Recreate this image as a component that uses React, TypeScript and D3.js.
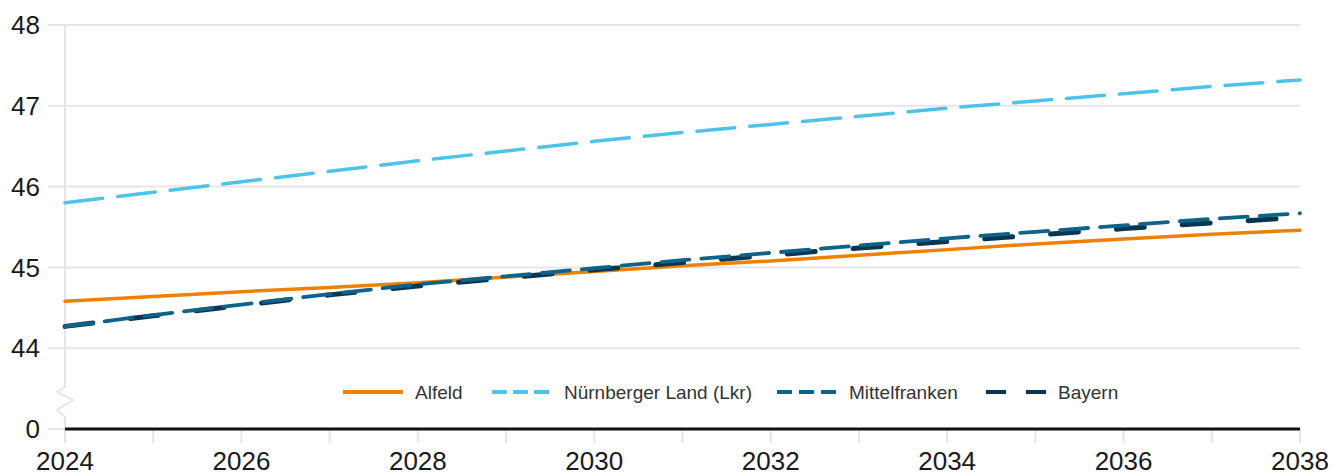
import React, { useEffect, useRef } from "react";
import { select, scaleLinear, line, range } from "d3";

const years = range(2024, 2039);
const yTicks = [0, 44, 45, 46, 47, 48];
const xLabels = [2024, 2026, 2028, 2030, 2032, 2034, 2036, 2038];

const alfeld = [44.58, 44.64, 44.7, 44.75, 44.81, 44.88, 44.95, 45.02, 45.08, 45.15, 45.22, 45.29, 45.35, 45.41, 45.46];
const nuernberg = [45.8, 45.93, 46.06, 46.19, 46.32, 46.44, 46.56, 46.67, 46.77, 46.87, 46.97, 47.06, 47.15, 47.24, 47.32];
const mittelfranken = [44.27, 44.41, 44.54, 44.67, 44.79, 44.89, 44.99, 45.09, 45.18, 45.27, 45.36, 45.44, 45.52, 45.6, 45.67];
const bayern = [44.27, 44.4, 44.53, 44.66, 44.77, 44.87, 44.97, 45.06, 45.15, 45.24, 45.32, 45.4, 45.48, 45.55, 45.62];

const series = [
  { name: "Alfeld", values: alfeld, color: "#f08000", width: 3.5, dash: null, legendDash: null },
  { name: "Nürnberger Land (Lkr)", values: nuernberg, color: "#4ec3ea", width: 3.5, dash: "38 15", legendDash: "15 6" },
  { name: "Bayern", values: bayern, color: "#083550", width: 5, dash: "28 38", legendDash: "20 20" },
  { name: "Mittelfranken", values: mittelfranken, color: "#0d6389", width: 3.8, dash: "28 12", legendDash: "15 7" },
];
const legendOrder = ["Alfeld", "Nürnberger Land (Lkr)", "Mittelfranken", "Bayern"];

const W = 1335;
const H = 476;
const FONT = "'Liberation Sans', Arial, Helvetica, sans-serif";

export default function App() {
  const svgRef = useRef<SVGSVGElement | null>(null);

  useEffect(() => {
    const svg = select(svgRef.current);
    svg.selectAll("*").remove();

    const left = 65;
    const right = 1300;
    const top = 25;
    const bottom = 429;

    const x = scaleLinear().domain([2024, 2038]).range([left, right]);
    const yLin = scaleLinear().domain([43, 48]).range([bottom, top]);
    // broken axis: 0 sits one step below 44
    const y = (v: number) => (v === 0 ? yLin(43) : yLin(v));

    // gridlines
    svg
      .append("g")
      .selectAll("line")
      .data(yTicks.filter((d) => d !== 0))
      .join("line")
      .attr("x1", 48)
      .attr("x2", right)
      .attr("y1", (d) => y(d))
      .attr("y2", (d) => y(d))
      .attr("stroke", "#e6e6e6")
      .attr("stroke-width", 2);

    svg
      .append("line")
      .attr("x1", 48)
      .attr("x2", left)
      .attr("y1", y(0))
      .attr("y2", y(0))
      .attr("stroke", "#e6e6e6")
      .attr("stroke-width", 2);

    // y axis line with zigzag break
    const zz = `M${left},${top} L${left},387 L57,392 L73,400 L57,410 L${left},417 L${left},443`;
    svg
      .append("path")
      .attr("d", zz)
      .attr("fill", "none")
      .attr("stroke", "#e6e6e6")
      .attr("stroke-width", 2);

    // x ticks
    svg
      .append("g")
      .selectAll("line")
      .data(years.slice(1))
      .join("line")
      .attr("x1", (d) => x(d))
      .attr("x2", (d) => x(d))
      .attr("y1", bottom)
      .attr("y2", 443)
      .attr("stroke", "#e6e6e6")
      .attr("stroke-width", 2);

    // zero line
    svg
      .append("line")
      .attr("x1", left)
      .attr("x2", right)
      .attr("y1", y(0))
      .attr("y2", y(0))
      .attr("stroke", "#111")
      .attr("stroke-width", 3);

    // y labels
    svg
      .append("g")
      .selectAll("text")
      .data(yTicks)
      .join("text")
      .attr("x", 40)
      .attr("y", (d) => y(d))
      .attr("dy", "0.35em")
      .attr("text-anchor", "end")
      .attr("font-family", FONT)
      .attr("font-size", 26)
      .attr("fill", "#1a1a1a")
      .text((d) => d);

    // x labels
    svg
      .append("g")
      .selectAll("text")
      .data(xLabels)
      .join("text")
      .attr("x", (d) => x(d))
      .attr("y", 461)
      .attr("dy", "0.35em")
      .attr("text-anchor", "middle")
      .attr("font-family", FONT)
      .attr("font-size", 26)
      .attr("fill", "#1a1a1a")
      .text((d) => d);

    const getLine = line<number>()
      .x((_, i) => x(years[i]))
      .y((d) => y(d));

    svg
      .append("g")
      .selectAll("path")
      .data(series)
      .join("path")
      .attr("d", (d) => getLine(d.values))
      .attr("fill", "none")
      .attr("stroke", (d) => d.color)
      .attr("stroke-width", (d) => d.width)
      .attr("stroke-linecap", "round")
      .attr("stroke-dasharray", (d) => d.dash);

    // legend
    const legendX: Record<string, number> = {
      Alfeld: 343,
      "Nürnberger Land (Lkr)": 492,
      Mittelfranken: 777,
      Bayern: 986,
    };
    const ly = 392;
    const legend = svg.append("g");
    legendOrder.forEach((name) => {
      const s = series.find((d) => d.name === name)!;
      const lx = legendX[name];
      legend
        .append("line")
        .attr("x1", lx)
        .attr("x2", lx + 60)
        .attr("y1", ly)
        .attr("y2", ly)
        .attr("stroke", s.color)
        .attr("stroke-width", 4)
        .attr("stroke-dasharray", s.legendDash);
      legend
        .append("text")
        .attr("x", lx + 72)
        .attr("y", ly)
        .attr("dy", "0.35em")
        .attr("font-family", FONT)
        .attr("font-size", 19)
        .attr("fill", "#333")
        .text(name);
    });
  }, []);

  return (
    <svg
      ref={svgRef}
      width={W}
      height={H}
      style={{ position: "absolute", left: 0, top: 0, background: "#fff" }}
    />
  );
}
